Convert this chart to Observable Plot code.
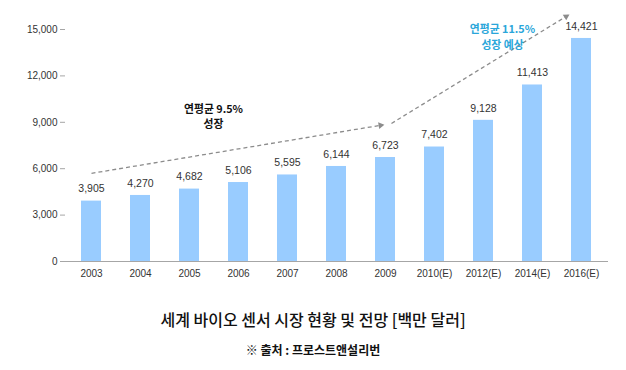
<!DOCTYPE html>
<html><head><meta charset="utf-8">
<script src="https://cdn.jsdelivr.net/npm/d3@7"></script>
<script src="https://cdn.jsdelivr.net/npm/@observablehq/plot@0.6"></script>
<style>
body{margin:0;background:#fff;font-family:"Liberation Sans","Noto Sans CJK KR",sans-serif;width:626px;}
#title{margin-top:19px;text-align:center;font-family:"Noto Sans CJK KR",sans-serif;font-size:16px;font-weight:500;line-height:20px;color:#111;}
#source{margin-top:11px;text-align:center;font-family:"Noto Sans CJK KR",sans-serif;font-size:12px;font-weight:bold;line-height:20px;color:#111;}
</style></head><body>
<div id="chart"></div>
<div id="title">세계 바이오 센서 시장 현황 및 전망 [백만 달러]</div>
<div id="source">※ 출처 : 프로스트앤설리번</div>
<script>
const years = ["2003","2004","2005","2006","2007","2008","2009","2010(E)","2012(E)","2014(E)","2016(E)"];
const values = [3905,4270,4682,5106,5595,6144,6723,7402,9128,11413,14421];
const yTicks = [0,3000,6000,9000,12000,15000];
const trendStart = ["2003","2009"];
const trendEnd = ["2009","2016(E)"];
const trendStartValue = [5700,8690];
const trendEndValue = [8860,16450];
const noteX = ["2005","2012(E)"];
const noteValue = [9340,14500];
const noteLine1 = ["연평균 9.5%","연평균 11.5%"];
const noteLine2 = ["성장","성장 예상"];

const bars = years.map((year,i)=>({year, value: values[i]}));
const trends = trendStart.map((s,i)=>({from:s, to:trendEnd[i], v1:trendStartValue[i], v2:trendEndValue[i]}));
const notes = noteX.map((x,i)=>({x, v:noteValue[i], l1:noteLine1[i], l2:noteLine2[i]}));
const insets = [[0,3],[7,16]];
const noteDx = [24,19];
const noteColor = ["#111","#2aa6da"];
const fmt = d3.format(",d");

function build(heads){
  const marks = [
    Plot.barY(bars,{x:"year",y:"value",fill:"#99ccff"}),
    Plot.ruleY([0],{stroke:"#a6a6a6"}),
    Plot.axisY({ticks:yTicks,tickFormat:fmt,stroke:"#a6a6a6",fill:"#333",tickSize:5,tickPadding:3,fontSize:10,line:true,label:null}),
    Plot.axisX({tickSize:0,tickPadding:8,fill:"#333",fontSize:10,label:null}),
    Plot.text(bars,{x:"year",y:"value",text:d=>fmt(d.value),dy:-12,fontSize:10.5,fill:"#333"})
  ];
  trends.forEach((t,i)=>{
    marks.push(Plot.arrow([t],{x1:"from",y1:"v1",x2:"to",y2:"v2",stroke:"#8c8c8c",strokeWidth:1.3,strokeDasharray:"4,3",headLength:0,strokeLinecap:"butt",insetStart:insets[i][0],insetEnd:insets[i][1]}));
    if (heads) marks.push(Plot.dot([t],{x:"to",y:"v2",symbol:"triangle2",r:3.2,fill:"#8c8c8c",stroke:null,rotate:heads[i].rot,dx:heads[i].dx,dy:heads[i].dy}));
  });
  notes.forEach((n,i)=>{
    const common = {x:"x",y:"v",dx:noteDx[i],fontSize:10.8,fontWeight:"bold",fill:noteColor[i],fontFamily:"'Noto Sans CJK KR',sans-serif"};
    marks.push(Plot.text([n],{...common,text:"l1",dy:-7.8}));
    marks.push(Plot.text([n],{...common,text:"l2",dy:7.8}));
  });
  return Plot.plot({
    width:626,height:290,marginTop:29,marginBottom:29,marginLeft:65,marginRight:18,
    style:{fontFamily:"'Liberation Sans','Noto Sans CJK KR',sans-serif",background:"#fff"},
    x:{domain:years,paddingInner:0.59,paddingOuter:0.32},
    y:{domain:[0,15000]},
    marks
  });
}
const first = build(null);
const xs = first.scale("x"), ys = first.scale("y");
const heads = trends.map((t,i)=>{
  const bw = xs.bandwidth/2;
  const x1 = xs.apply(t.from)+bw, x2 = xs.apply(t.to)+bw;
  const y1 = ys.apply(t.v1), y2 = ys.apply(t.v2);
  const len = Math.hypot(x2-x1,y2-y1);
  const ux=(x2-x1)/len, uy=(y2-y1)/len;
  const back = insets[i][1]+2;
  return {rot: Math.atan2(uy,ux)*180/Math.PI+90, dx:-ux*back, dy:-uy*back};
});
document.getElementById("chart").append(build(heads));
</script>
</body></html>
